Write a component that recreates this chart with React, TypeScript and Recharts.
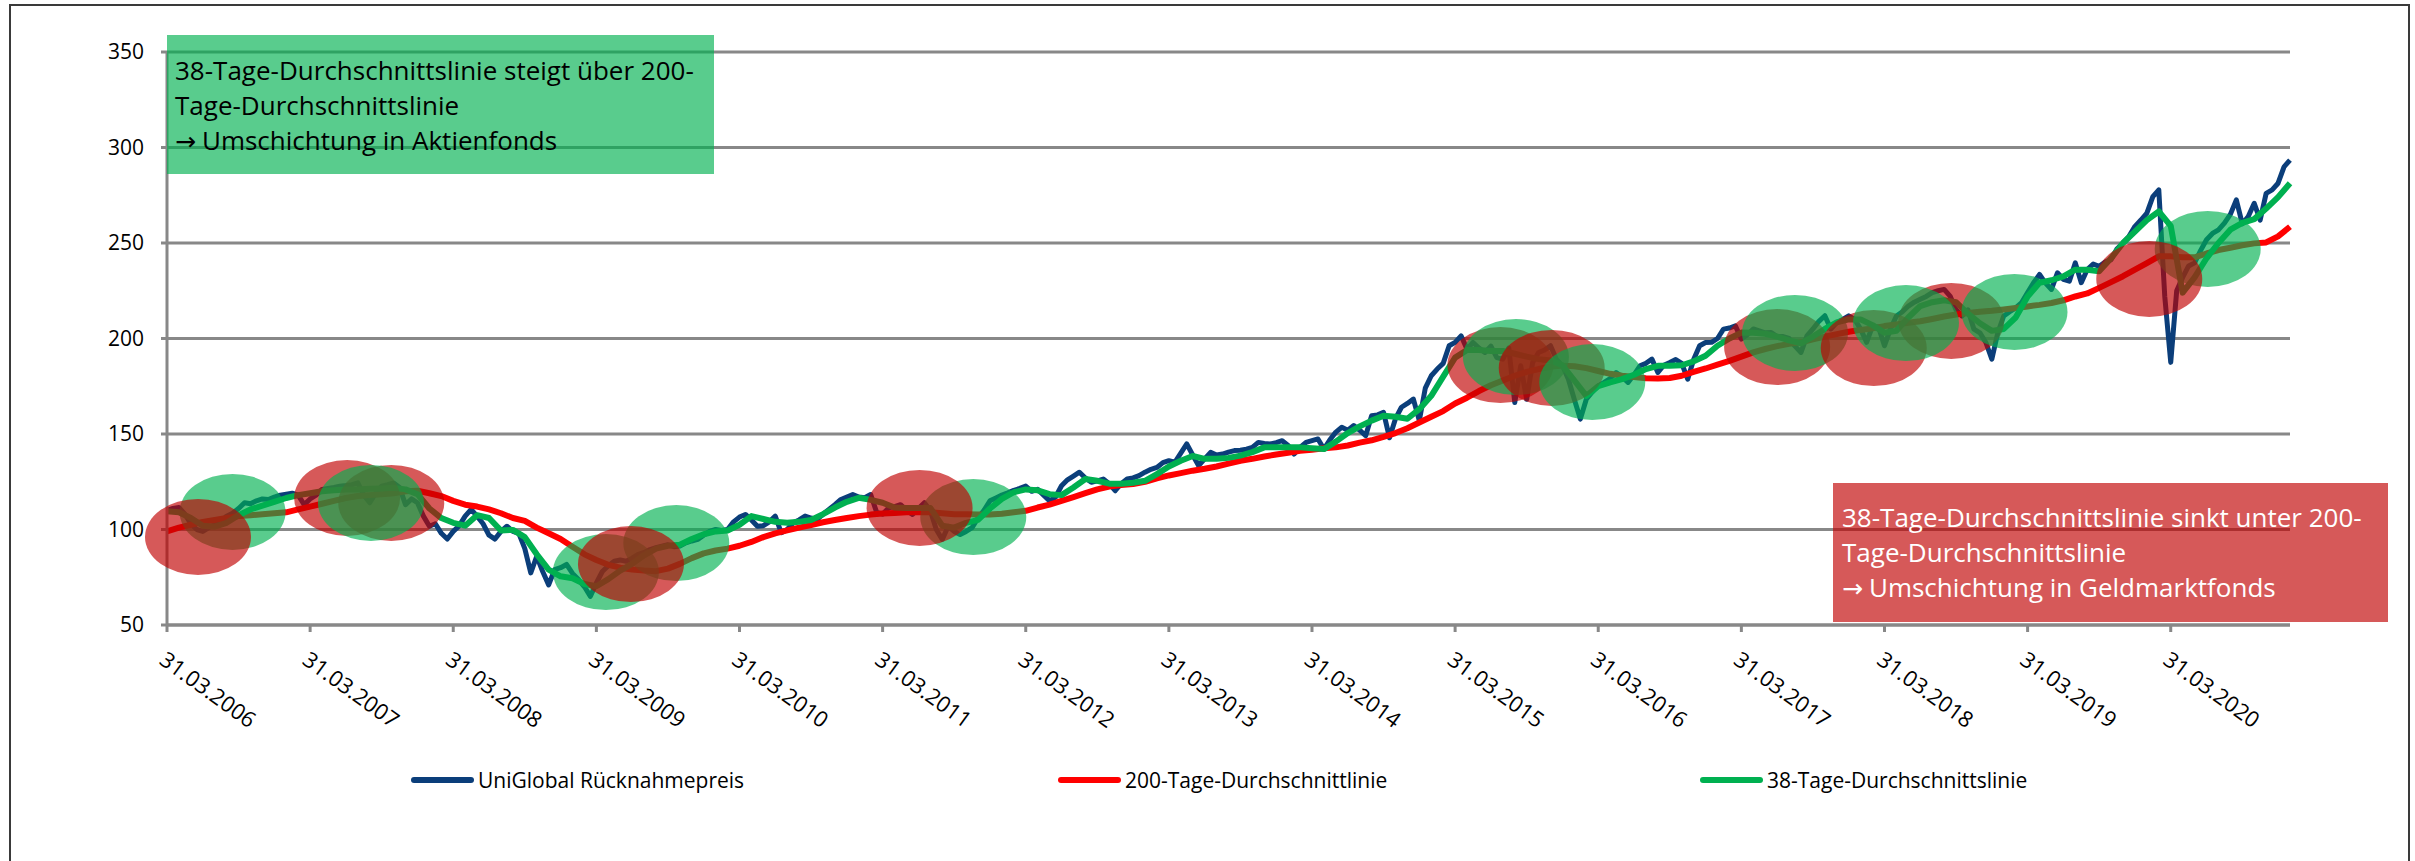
import React from "react";
import {
    ComposedChart,
    Line,
    Scatter,
    XAxis,
    YAxis,
    CartesianGrid,
} from "recharts";

// x values are months after 31.03.2006, price is sampled twice a month, the averages once a month
const tickMonths = [0, 12, 24, 36, 48, 60, 72, 84, 96, 108, 120, 132, 144, 156, 168];
const tickLabels = [
    "31.03.2006", "31.03.2007", "31.03.2008", "31.03.2009", "31.03.2010",
    "31.03.2011", "31.03.2012", "31.03.2013", "31.03.2014", "31.03.2015",
    "31.03.2016", "31.03.2017", "31.03.2018", "31.03.2019", "31.03.2020",
];
const yTicks = [50, 100, 150, 200, 250, 300, 350];

const price = [
    110, 111, 111.5, 108, 103, 100, 99, 101, 102.5, 104, 107, 108.5, 111, 114, 113.5, 115, 116, 115.7, 117, 118, 118.5, 119, 118, 113,
    116, 118, 121, 121.5, 122, 122.7, 123, 123.5, 124.4, 118, 114, 119, 122.7, 123.5, 124.4, 122, 113, 116, 114, 107, 101.7, 103, 98, 95,
    99, 102, 107, 110.5, 107, 103, 97, 95, 99, 101.7, 99, 98, 90, 77.3, 86, 78, 71, 79, 80, 81.7, 77, 73.8, 70, 65,
    72, 78, 81, 83.4, 84, 83.4, 85, 87, 88, 89.5, 90.5, 91.3, 92, 91, 91.3, 93, 94, 94.8, 97, 99, 100, 99.5, 100, 104,
    106.5, 107.9, 105, 101.7, 102, 104, 107, 98.3, 100, 103.5, 105, 107, 106, 105.2, 108, 110.5, 113, 115.7, 117, 118.3, 117, 116.6, 118.3, 109,
    108, 111.3, 112, 113, 110, 107.9, 111, 114, 110, 100, 94.8, 101.7, 99, 97.4, 99, 101, 106, 110, 115, 116.5, 118, 119.2, 120.5, 121.5,
    122.7, 120, 121, 118, 115, 117, 122.9, 126, 128, 130, 127, 124.7, 125.5, 126.4, 124, 120.3, 124, 126.4, 127, 128.2, 130, 131.5, 132.5, 135,
    136, 135.2, 140, 144.8, 139, 133.4, 137, 140.4, 139, 139.5, 140.5, 141.3, 141.5, 142.1, 143, 145.6, 145, 144.8, 145.5, 146.5, 144, 139.5, 143, 145.6,
    146.5, 147.4, 142.1, 147, 151, 153.5, 152, 154.4, 152, 149.1, 159.6, 160, 161.3, 148, 158, 164, 166, 168.3, 157, 174, 180.5, 184, 187, 196.2,
    198, 201.4, 194.4, 197.9, 195, 192.7, 196, 190, 189.2, 195, 166.5, 185.7, 168.2, 187.4, 192.7, 194, 196.2, 189, 185.7, 178.7, 168, 157.8, 168.2, 172,
    175.2, 177, 179, 182.2, 180, 177, 181, 185.7, 187, 189.2, 182.2, 186, 187.4, 189, 187, 178.7, 189, 196.2, 197.9, 198, 200, 204.9, 205.5, 206.6,
    199.7, 202, 205, 204, 203, 203.1, 201, 201, 200, 196, 192.7, 201.4, 205, 209, 211.9, 205, 208.4, 210, 211.9, 210, 204.9, 198, 206.6, 206,
    196.2, 205, 211.8, 214, 217, 219, 220.5, 222, 224, 225, 225.7, 222.2, 215, 211.8, 215, 204.9, 203, 197.9, 189.2, 203, 211.8, 214, 216, 218.8,
    224, 229.2, 233.5, 229, 225.7, 234.4, 231, 230, 239.6, 229.2, 236.1, 239, 237.8, 240, 241.3, 247, 250, 253.5, 258.7, 262, 265.6, 274.3, 277.8, 222,
    187.5, 225, 232, 238, 239.6, 246, 251.7, 255, 256.9, 260.4, 265, 272.6, 260, 263.9, 270.8, 262, 276, 277.8, 281.3, 289.9, 293.4,
];

const ma200 = [
    99, 101, 102.5, 104, 105, 106, 107, 107.5, 108, 108.5, 109, 110.5,
    112, 113.5, 115, 116.5, 117.5, 118, 118.5, 119, 120, 120.3, 119, 117.5,
    115, 113, 112, 110.5, 108.5, 106, 104.5, 101, 98, 95, 91, 87,
    84, 81.5, 80, 79, 78.5, 78.2, 79.5, 82, 85, 87.5, 89, 90,
    91.5, 93.5, 96, 98, 99.5, 101, 102.3, 103.8, 105, 106, 107, 107.8,
    108.4, 108.7, 109, 109, 109, 108.5, 108, 108, 107.9, 107.9, 108.2, 109,
    109.8, 111.5, 113, 115, 117, 119, 121, 122.5, 123.3, 123.8, 125, 126.8,
    128.3, 129.5, 130.8, 131.8, 133, 134.5, 136, 137, 138.2, 139.3, 140.2, 141.2,
    141.8, 142.5, 143, 144, 145.5, 146.7, 148.5, 150.5, 153, 156, 159, 162,
    166, 169, 172.5, 175.5, 178, 180.5, 182.5, 184, 185.2, 185.8, 185.5, 184.5,
    183, 181.5, 180.5, 179.8, 179.2, 179, 179.3, 180.5, 182.5, 184.3, 186.3, 188.3,
    190.5, 192.7, 194.5, 196, 197.2, 198, 199.5, 201, 202.3, 203.5, 204.5, 205.3,
    206.5, 207.3, 208.2, 209, 210.2, 211.5, 212.6, 213.3, 214, 214.5, 215.2, 216,
    216.8, 217.6, 218.6, 220, 222, 223.6, 226.5, 229.5, 232.6, 236, 239.5, 243,
    243, 242.5, 242.5, 244.5, 246.3, 247.5, 248.8, 249.8, 250.3, 253.5, 258.5,
];

const ma38 = [
    109.6, 109, 106, 102, 101.5, 103.5, 107.5, 110.5, 112.5, 114.5, 116.5, 118,
    119, 120, 120.5, 121, 121, 121.3, 121.5, 121.8, 121, 118.5, 111, 106,
    103.5, 102, 107.5, 106, 99.5, 99.8, 96, 87, 79, 75.5, 74.5, 71.5,
    70.3, 74, 78.5, 82, 86.5, 90, 91.5, 92, 95, 97.5, 99, 99.5,
    102.5, 107, 105.5, 104, 103.5, 104, 105, 108, 111.5, 114.5, 116.6, 115.5,
    114, 111.5, 111.3, 111.3, 111.3, 102, 101, 103.5, 105, 111, 116, 119.5,
    121, 120.5, 118.5, 118, 122, 126.4, 125.5, 124, 124, 124.5, 125.5, 129,
    133, 136, 138.5, 137, 137, 137.5, 138.7, 140.5, 143, 143, 143, 143,
    142.5, 142.1, 146, 150.5, 154, 157, 159.6, 159, 158, 163, 170, 180,
    190, 194, 194, 193.5, 193.5, 192, 190.5, 189.2, 188.5, 186, 178, 170,
    175, 177, 178.7, 181, 184, 185.7, 185.7, 186, 188, 191, 196.2, 200,
    203.1, 203, 202.5, 201, 199, 197.5, 201, 205, 208.4, 210, 210, 207,
    203, 204, 211, 217, 219, 220, 219, 213, 208, 204, 205, 211,
    222, 229.2, 230.5, 232.5, 236, 236, 235.2, 242, 250, 256, 262, 266.5,
    259, 224, 232, 242, 250, 257, 260.5, 262.5, 268, 274, 281.3,
];

// crossings of the 38-day and 200-day lines: up = buy signal (green), down = sell signal (red)
const signals = [
    { m: 5.5, v: 109.2, kind: "up" },
    { m: 2.6, v: 96.1, kind: "down" },
    { m: 15.1, v: 116.5, kind: "down" },
    { m: 18.8, v: 113.9, kind: "down" },
    { m: 17.1, v: 113.9, kind: "up" },
    { m: 36.8, v: 77.7, kind: "up" },
    { m: 42.7, v: 92.9, kind: "up" },
    { m: 38.9, v: 81.9, kind: "down" },
    { m: 67.6, v: 106.5, kind: "up" },
    { m: 63.1, v: 111.3, kind: "down" },
    { m: 111.8, v: 186.1, kind: "down" },
    { m: 113.1, v: 190.3, kind: "up" },
    { m: 116.1, v: 184.6, kind: "down" },
    { m: 119.5, v: 177.2, kind: "up" },
    { m: 135, v: 195.5, kind: "down" },
    { m: 136.5, v: 202.9, kind: "up" },
    { m: 143.1, v: 195, kind: "down" },
    { m: 149.6, v: 209.2, kind: "down" },
    { m: 145.8, v: 208.1, kind: "up" },
    { m: 154.9, v: 213.9, kind: "up" },
    { m: 171.1, v: 246.9, kind: "up" },
    { m: 166.2, v: 231.2, kind: "down" },
];

const BLUE = "#0b3e7a";
const RED = "#ff0000";
const GREEN = "#00b050";
const GRID = "#888888";
const FONT = "'Open Sans', sans-serif";

const chartData = price.map((p, k) => ({
    m: k / 2,
    price: p,
    ma200: k % 2 === 0 ? ma200[k / 2] : null,
    ma38: k % 2 === 0 ? ma38[k / 2] : null,
}));

const legendItems = [
    { label: "UniGlobal Rücknahmepreis", color: BLUE, left: 411 },
    { label: "200-Tage-Durchschnittlinie", color: RED, left: 1058 },
    { label: "38-Tage-Durchschnittslinie", color: GREEN, left: 1700 },
];

function XTick(props: any) {
    const { x, y, payload } = props;
    const i = tickMonths.indexOf(payload.value);
    const ax = x - 9;
    const ay = y + 31;
    return (
        <text x={ax} y={ay} transform={`rotate(36, ${ax}, ${ay})`} fontSize={22} fontFamily={FONT} fill="#000" textAnchor="start">
            {tickLabels[i]}
        </text>
    );
}

function SignalShape(props: any) {
    const { cx, cy, payload } = props;
    const up = payload.kind === "up";
    return <ellipse cx={cx} cy={cy} rx={53} ry={38} fill={up ? "#00b050" : "#c00000"} fillOpacity={0.65} />;
}

const arrow = <span style={{ fontFamily: "'DejaVu Sans', sans-serif", fontSize: 25, marginRight: 6 }}>→</span>;

export default function App() {
    return (
        <div style={{ position: "fixed", left: 0, top: 0, width: 2415, height: 861, background: "#fff", overflow: "hidden", fontFamily: FONT }}>
            <div style={{ position: "absolute", left: 9, top: 4, width: 2397, height: 900, border: "2px solid #3a3a3a" }} />

            <div style={{ position: "absolute", left: 0, top: 0 }}>
                <ComposedChart width={2415} height={861} data={chartData} margin={{ top: 52, right: 125, bottom: 0, left: 0 }}>
                    <CartesianGrid vertical={false} stroke={GRID} strokeWidth={3} />
                    <XAxis
                        dataKey="m"
                        type="number"
                        domain={[0, 178]}
                        ticks={tickMonths}
                        height={236}
                        tickSize={7}
                        tickMargin={0}
                        interval={0}
                        axisLine={{ stroke: GRID, strokeWidth: 3 }}
                        tickLine={{ stroke: GRID, strokeWidth: 3 }}
                        tick={<XTick />}
                    />
                    <YAxis
                        type="number"
                        domain={[50, 350]}
                        ticks={yTicks}
                        width={167}
                        tickSize={6}
                        tickMargin={17}
                        axisLine={{ stroke: GRID, strokeWidth: 3 }}
                        tickLine={{ stroke: GRID, strokeWidth: 3 }}
                        tick={{ fontSize: 21, fill: "#000", fontFamily: FONT }}
                    />
                    <Line type="linear" dataKey="price" stroke={BLUE} strokeWidth={5} dot={false} isAnimationActive={false} strokeLinejoin="round" />
                    <Line type="linear" dataKey="ma200" stroke={RED} strokeWidth={6} dot={false} connectNulls isAnimationActive={false} strokeLinejoin="round" />
                    <Line type="linear" dataKey="ma38" stroke={GREEN} strokeWidth={6} dot={false} connectNulls isAnimationActive={false} strokeLinejoin="round" />
                    <Scatter data={signals} dataKey="v" shape={<SignalShape />} isAnimationActive={false} />
                </ComposedChart>
            </div>

            <div style={{ position: "absolute", left: 167, top: 35, width: 547, height: 139, background: "rgba(0,176,80,0.65)", boxSizing: "border-box", paddingLeft: 8, paddingTop: 18, fontSize: 26, lineHeight: "35px", color: "#000", whiteSpace: "nowrap" }}>
                <div>38-Tage-Durchschnittslinie steigt über 200-</div>
                <div>Tage-Durchschnittslinie</div>
                <div>{arrow}Umschichtung in Aktienfonds</div>
            </div>

            <div style={{ position: "absolute", left: 1833, top: 483, width: 555, height: 139, background: "rgba(192,0,0,0.65)", boxSizing: "border-box", paddingLeft: 9, paddingTop: 17, fontSize: 26, lineHeight: "35px", color: "#fff", whiteSpace: "nowrap" }}>
                <div>38-Tage-Durchschnittslinie sinkt unter 200-</div>
                <div>Tage-Durchschnittslinie</div>
                <div>{arrow}Umschichtung in Geldmarktfonds</div>
            </div>

            {legendItems.map((it) => (
                <div key={it.label} style={{ position: "absolute", left: it.left, top: 766, height: 28, display: "flex", alignItems: "center", whiteSpace: "nowrap" }}>
                    <div style={{ width: 63, height: 6, background: it.color, borderRadius: 3, marginRight: 4 }} />
                    <span style={{ fontSize: 21, color: "#000" }}>{it.label}</span>
                </div>
            ))}
        </div>
    );
}
